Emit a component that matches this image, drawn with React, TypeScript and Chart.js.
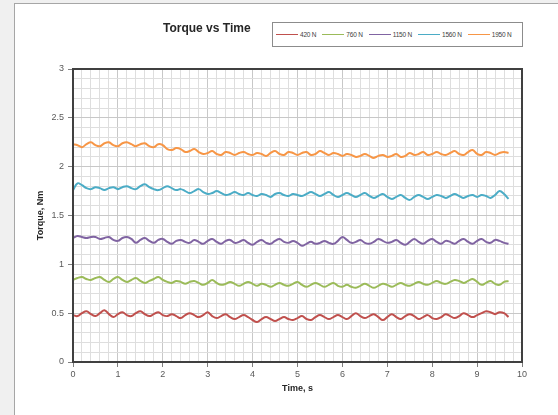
import React, { useEffect, useRef } from "react";
import { Chart, registerables } from "chart.js";

Chart.register(...registerables);

const times = [
  0, 0.1, 0.2, 0.3, 0.4, 0.5, 0.6, 0.7, 0.8, 0.9,
  1, 1.1, 1.2, 1.3, 1.4, 1.5, 1.6, 1.7, 1.8, 1.9,
  2, 2.1, 2.2, 2.3, 2.4, 2.5, 2.6, 2.7, 2.8, 2.9,
  3, 3.1, 3.2, 3.3, 3.4, 3.5, 3.6, 3.7, 3.8, 3.9,
  4, 4.1, 4.2, 4.3, 4.4, 4.5, 4.6, 4.7, 4.8, 4.9,
  5, 5.1, 5.2, 5.3, 5.4, 5.5, 5.6, 5.7, 5.8, 5.9,
  6, 6.1, 6.2, 6.3, 6.4, 6.5, 6.6, 6.7, 6.8, 6.9,
  7, 7.1, 7.2, 7.3, 7.4, 7.5, 7.6, 7.7, 7.8, 7.9,
  8, 8.1, 8.2, 8.3, 8.4, 8.5, 8.6, 8.7, 8.8, 8.9,
  9, 9.1, 9.2, 9.3, 9.4, 9.5, 9.6, 9.7,
];

const torque420 = [
  0.48, 0.47, 0.50, 0.52, 0.49, 0.47, 0.50, 0.53, 0.49, 0.46,
  0.49, 0.51, 0.48, 0.47, 0.50, 0.52, 0.49, 0.47, 0.49, 0.51,
  0.48, 0.47, 0.49, 0.47, 0.45, 0.48, 0.50, 0.48, 0.46, 0.48,
  0.51, 0.47, 0.45, 0.47, 0.49, 0.46, 0.44, 0.46, 0.48, 0.46,
  0.43, 0.41, 0.44, 0.46, 0.44, 0.42, 0.44, 0.46, 0.44, 0.43,
  0.45, 0.47, 0.44, 0.43, 0.46, 0.48, 0.46, 0.44, 0.46, 0.48,
  0.46, 0.44, 0.47, 0.50, 0.47, 0.45, 0.47, 0.49, 0.46, 0.43,
  0.46, 0.49, 0.46, 0.44, 0.47, 0.49, 0.47, 0.44, 0.46, 0.48,
  0.45, 0.44, 0.46, 0.49, 0.47, 0.45, 0.47, 0.50, 0.48, 0.46,
  0.48, 0.50, 0.52, 0.51, 0.49, 0.51, 0.50, 0.46,
];

const torque760 = [
  0.84, 0.86, 0.87, 0.85, 0.84, 0.86, 0.87, 0.84, 0.82, 0.85,
  0.87, 0.84, 0.82, 0.84, 0.86, 0.83, 0.81, 0.83, 0.85, 0.87,
  0.84, 0.82, 0.81, 0.83, 0.82, 0.80, 0.82, 0.83, 0.81, 0.79,
  0.81, 0.84, 0.81, 0.79, 0.80, 0.82, 0.80, 0.78, 0.80, 0.82,
  0.80, 0.78, 0.80, 0.79, 0.77, 0.79, 0.81, 0.79, 0.78, 0.80,
  0.82, 0.79, 0.77, 0.79, 0.81, 0.79, 0.77, 0.79, 0.81, 0.78,
  0.77, 0.79, 0.77, 0.76, 0.78, 0.80, 0.78, 0.76, 0.78, 0.80,
  0.79, 0.77, 0.79, 0.81, 0.79, 0.78, 0.80, 0.82, 0.80, 0.79,
  0.81, 0.83, 0.81, 0.80, 0.82, 0.84, 0.83, 0.81, 0.83, 0.85,
  0.82, 0.79, 0.81, 0.83, 0.80, 0.79, 0.82, 0.83,
];

const torque1150 = [
  1.27, 1.29, 1.28, 1.27, 1.28, 1.28, 1.26, 1.27, 1.28, 1.25,
  1.24, 1.27, 1.28, 1.26, 1.22, 1.25, 1.27, 1.24, 1.22, 1.25,
  1.26, 1.23, 1.21, 1.24, 1.25, 1.23, 1.22, 1.25, 1.23, 1.21,
  1.24, 1.26, 1.23, 1.21, 1.24, 1.25, 1.22, 1.23, 1.25, 1.22,
  1.20, 1.23, 1.25, 1.22, 1.21, 1.24, 1.26, 1.23, 1.22, 1.24,
  1.22, 1.19, 1.21, 1.23, 1.21, 1.22, 1.24, 1.22, 1.21, 1.24,
  1.28, 1.25, 1.22, 1.23, 1.25, 1.22, 1.21, 1.23, 1.26, 1.24,
  1.22, 1.23, 1.25, 1.22, 1.20, 1.23, 1.26, 1.23, 1.21, 1.24,
  1.26, 1.23, 1.21, 1.24, 1.23, 1.21, 1.24, 1.26, 1.23, 1.21,
  1.24, 1.26, 1.23, 1.22, 1.25, 1.24, 1.22, 1.21,
];

const torque1560 = [
  1.76, 1.83, 1.81, 1.78, 1.77, 1.79, 1.78, 1.76, 1.78, 1.79,
  1.77, 1.79, 1.80, 1.78, 1.77, 1.80, 1.82, 1.79, 1.77, 1.76,
  1.78, 1.80, 1.78, 1.76, 1.77, 1.75, 1.73, 1.75, 1.77, 1.74,
  1.72, 1.73, 1.75, 1.73, 1.71, 1.72, 1.74, 1.72, 1.71, 1.73,
  1.71, 1.70, 1.72, 1.71, 1.69, 1.72, 1.73, 1.71, 1.70, 1.72,
  1.71, 1.70, 1.72, 1.74, 1.72, 1.70, 1.72, 1.74, 1.71, 1.69,
  1.71, 1.73, 1.71, 1.69, 1.71, 1.73, 1.70, 1.68, 1.70, 1.72,
  1.69, 1.67, 1.69, 1.71, 1.68, 1.66, 1.69, 1.71, 1.69, 1.67,
  1.69, 1.71, 1.70, 1.68, 1.70, 1.72, 1.70, 1.68, 1.70, 1.71,
  1.69, 1.71, 1.70, 1.68, 1.71, 1.75, 1.72, 1.67,
];

const torque1950 = [
  2.23, 2.22, 2.20, 2.23, 2.25, 2.22, 2.21, 2.24, 2.25, 2.22,
  2.21, 2.24, 2.25, 2.23, 2.21, 2.23, 2.24, 2.21, 2.20, 2.23,
  2.22, 2.18, 2.17, 2.19, 2.18, 2.15, 2.16, 2.18, 2.15, 2.13,
  2.14, 2.16, 2.13, 2.12, 2.15, 2.14, 2.12, 2.14, 2.15, 2.13,
  2.12, 2.14, 2.13, 2.11, 2.14, 2.16, 2.13, 2.12, 2.15, 2.14,
  2.12, 2.14, 2.15, 2.12, 2.13, 2.16, 2.14, 2.12, 2.14, 2.13,
  2.11, 2.13, 2.12, 2.10, 2.11, 2.13, 2.11, 2.09, 2.11, 2.12,
  2.10, 2.11, 2.13, 2.10, 2.11, 2.14, 2.12, 2.13, 2.15, 2.12,
  2.13, 2.15, 2.13, 2.12, 2.14, 2.16, 2.13, 2.12, 2.15, 2.17,
  2.13, 2.12, 2.15, 2.14, 2.12, 2.14, 2.15, 2.14,
];

const seriesNames = ["420 N", "760 N", "1150 N", "1560 N", "1950 N"];
const seriesColors = ["#c0504d", "#9bbb59", "#8064a2", "#4bacc6", "#f79646"];
const seriesValues = [torque420, torque760, torque1150, torque1560, torque1950];

const xTickValues = [0, 1, 2, 3, 4, 5, 6, 7, 8, 9, 10];
const xTickLabels = ["0", "1", "2", "3", "4", "5", "6", "7", "8", "9", "10"];
const yTickValues = [0, 0.5, 1, 1.5, 2, 2.5, 3];
const yTickLabels = ["0", "0.5", "1", "1.5", "2", "2.5", "3"];

const chartTitle = "Torque vs Time";
const xTitle = "Time, s";
const yTitle = "Torque, Nm";

const FONT = "'Liberation Sans', Arial, sans-serif";

function findIdx(values: number[], v: number) {
  for (let i = 0; i < values.length; i++) {
    if (Math.abs(values[i] - v) < 1e-6) return i;
  }
  return -1;
}

const framePlugin = {
  id: "plotFrame",
  afterDatasetsDraw(chart: any) {
    const { ctx, chartArea } = chart;
    const { left, top, right, bottom } = chartArea;
    ctx.save();
    ctx.strokeStyle = "#404040";
    ctx.lineWidth = 2;
    ctx.strokeRect(left, top, right - left, bottom - top);
    ctx.restore();
  },
};

export default function App() {
  const canvasRef = useRef<HTMLCanvasElement | null>(null);

  useEffect(() => {
    if (!canvasRef.current) return;
    const datasets = seriesValues.map((vals, si) => ({
      label: seriesNames[si],
      data: vals.map((y, i) => ({ x: times[i], y })),
      borderColor: seriesColors[si],
      backgroundColor: seriesColors[si],
      borderWidth: 2,
      pointRadius: 0,
      tension: 0.4,
      fill: false,
    }));

    const chart = new Chart(canvasRef.current, {
      type: "line",
      data: { datasets },
      plugins: [framePlugin],
      options: {
        animation: false,
        responsive: true,
        maintainAspectRatio: false,
        layout: { padding: { left: 0, top: 69, right: 36, bottom: 0 } },
        plugins: {
          legend: { display: false },
          title: { display: false },
          tooltip: { enabled: false },
        },
        scales: {
          x: {
            type: "linear",
            min: 0,
            max: 10,
            afterFit: (scale: any) => {
              scale.height = 53;
            },
            border: { display: false },
            grid: {
              color: (ctx: any) =>
                findIdx(xTickValues, ctx.tick.value) >= 0 ? "#c8c8c8" : "#dedede",
              lineWidth: 1,
              tickLength: 5,
              tickColor: (ctx: any) =>
                findIdx(xTickValues, ctx.tick.value) >= 0 ? "#7f7f7f" : "rgba(0,0,0,0)",
            },
            ticks: {
              stepSize: 0.2,
              autoSkip: false,
              maxRotation: 0,
              padding: 2,
              color: "#595959",
              font: { family: FONT, size: 9 },
              callback: (v: any) => {
                const i = findIdx(xTickValues, Number(v));
                return i >= 0 ? xTickLabels[i] : "";
              },
            },
            title: {
              display: true,
              text: xTitle,
              color: "#262626",
              font: { family: FONT, size: 9, weight: "bold" },
              padding: { top: 0, bottom: 21 },
            },
          },
          y: {
            type: "linear",
            min: 0,
            max: 3,
            afterFit: (scale: any) => {
              scale.width = 73;
            },
            border: { display: false },
            grid: {
              color: (ctx: any) =>
                findIdx(yTickValues, ctx.tick.value) >= 0 ? "#c8c8c8" : "#dedede",
              lineWidth: 1,
              tickLength: 5,
              tickColor: (ctx: any) =>
                findIdx(yTickValues, ctx.tick.value) >= 0 ? "#7f7f7f" : "rgba(0,0,0,0)",
            },
            ticks: {
              stepSize: 0.1,
              autoSkip: false,
              padding: 4,
              color: "#595959",
              font: { family: FONT, size: 9 },
              callback: (v: any) => {
                const i = findIdx(yTickValues, Number(v));
                return i >= 0 ? yTickLabels[i] : "";
              },
            },
            title: {
              display: true,
              text: yTitle,
              color: "#262626",
              font: { family: FONT, size: 9, weight: "bold" },
              padding: { top: 35, bottom: 0 },
            },
          },
        },
      } as any,
    });
    return () => chart.destroy();
  }, []);

  return (
    <div
      style={{
        position: "fixed",
        left: 0,
        top: 0,
        width: 558,
        height: 415,
        background: "#f0f0f0",
        overflow: "hidden",
        fontFamily: FONT,
      }}
    >
      <div
        style={{
          position: "absolute",
          left: 14,
          top: 3,
          width: 600,
          height: 500,
          background: "#ffffff",
          border: "1px solid #a6a6a6",
        }}
      />
      <div style={{ position: "absolute", left: 0, top: 0, width: 558, height: 415 }}>
        <canvas ref={canvasRef} />
      </div>
      <div
        style={{
          position: "absolute",
          left: 163,
          top: 20,
          fontSize: 12,
          fontWeight: "bold",
          color: "#262626",
          whiteSpace: "nowrap",
          lineHeight: "16px",
        }}
      >
        {chartTitle}
      </div>
      <div
        style={{
          position: "absolute",
          left: 272,
          top: 22,
          width: 251,
          height: 25,
          boxSizing: "border-box",
          border: "1px solid #8c8c8c",
          background: "#ffffff",
          display: "flex",
          alignItems: "center",
          paddingLeft: 3,
          fontSize: 6.5,
          letterSpacing: -0.2,
          color: "#404040",
          whiteSpace: "nowrap",
        }}
      >
        {seriesNames.map((name, i) => (
          <div key={name} style={{ display: "flex", alignItems: "center", marginRight: 6 }}>
            <div style={{ width: 22, height: 1.5, background: seriesColors[i], marginRight: 2 }} />
            <span>{name}</span>
          </div>
        ))}
      </div>
    </div>
  );
}
